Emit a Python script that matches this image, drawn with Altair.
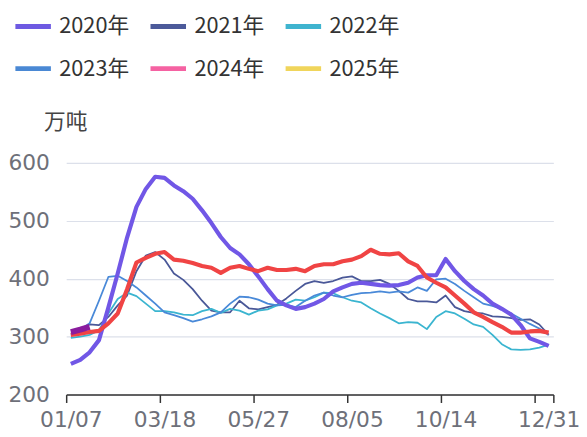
import altair as alt
import pandas as pd

years = ["2020年", "2021年", "2022年", "2023年", "2024年", "2025年"]
weeks = [d.strftime("%m/%d") for d in pd.date_range("2021-01-07", periods=51, freq="7D")] + ["12/31"]

v2020 = [253, 260, 273, 294, 350, 409, 471, 524, 555, 576, 574, 561, 551, 538, 518, 496, 472, 453,
         442, 425, 404, 382, 362, 354, 348, 351, 357, 365, 378, 385, 391, 393, 391, 389, 388, 389,
         393, 402, 406, 406, 434, 413, 396, 382, 371, 357, 348, 338, 320, 297, 291, 284]
v2021 = [305, 312, 321, 320, 334, 354, 371, 413, 440, 446, 433, 409, 398, 382, 362, 345, 342, 342,
         362, 349, 347, 351, 355, 366, 379, 391, 396, 393, 396, 402, 404, 396, 396, 398, 391, 379,
         365, 361, 361, 359, 371, 351, 344, 341, 340, 335, 334, 332, 329, 330, 321, 303]
v2022 = [298, 300, 303, 311, 340, 365, 376, 370, 357, 344, 344, 342, 338, 337, 344, 348, 341, 348,
         345, 338, 345, 347, 354, 357, 364, 362, 368, 376, 375, 368, 362, 359, 349, 340, 332, 323,
         325, 324, 313, 334, 344, 340, 331, 321, 317, 303, 287, 278, 277, 278, 281, 286]
v2023 = [302, 312, 323, 362, 403, 405, 396, 385, 371, 357, 342, 337, 332, 326, 330, 335, 342, 357,
         369, 368, 364, 357, 354, 355, 351, 362, 371, 376, 371, 368, 372, 375, 376, 378, 376, 378,
         376, 385, 379, 399, 400, 391, 379, 368, 357, 353, 348, 340, 331, 322, 314, 303]
v2024 = [303, 305, 308, 310, 323, 340, 382, 428, 436, 443, 446, 433, 431, 427, 422, 419, 410, 419,
         422, 417, 413, 419, 415, 415, 417, 413, 422, 425, 425, 430, 433, 439, 450, 443, 442, 444,
         430, 422, 402, 393, 385, 371, 357, 342, 334, 325, 317, 307, 307, 309, 310, 307]
v2025 = [308, 312, 317]

series = [v2020, v2021, v2022, v2023, v2024, v2025]
legend_colors = ["#6E5AE2", "#4C5A9A", "#3FB4CF", "#4A88D4", "#F562A2", "#F0D55B"]
line_colors = ["#7157E6", "#4A5898", "#3BB5D0", "#4989D8", "#F04444", "#8A1C9E"]

rows = []
for yr, vals in zip(years, series):
    for i, v in enumerate(vals):
        rows.append({"year": yr, "idx": i, "week": weeks[i], "value": v})
df = pd.DataFrame(rows)

tick_vals = [-0.5, 9.5, 19.5, 29.5, 39.5, 49.5, 51.5]
tick_text = [weeks[0], weeks[10], weeks[20], weeks[30], weeks[40], "", weeks[51]]
expr = "''"
for tv, tt in reversed(list(zip(tick_vals, tick_text))):
    expr = f"datum.value < {tv + 0.1} ? '{tt}' : ({expr})"

CJK = "Noto Sans CJK SC"
NUM = "DejaVu Sans"

x_enc = alt.X(
    "idx:Q",
    scale=alt.Scale(domain=[-0.5, 51.5], nice=False, zero=False),
    axis=alt.Axis(
        values=tick_vals, labelExpr=expr, title=None, grid=False,
        domainColor="#333333", domainWidth=1.5, tickColor="#333333", tickWidth=1.5, tickSize=8,
        labelFontSize=22, labelColor="#6E7079", labelFont=NUM, labelPadding=7,
        labelOffset={"condition": {"test": "datum.value > 50", "value": -4.75}, "value": 4.75},
        labelBound=False, labelOverlap=False, labelFlush=False,
    ),
)
y_enc = alt.Y(
    "value:Q",
    scale=alt.Scale(domain=[200, 600], nice=False, zero=False),
    axis=alt.Axis(
        values=[200, 300, 400, 500, 600], title="万吨", titleAngle=0, titleX=-1, titleY=-42,
        titleAlign="center", titleBaseline="middle", titleFontSize=22, titleFont=CJK,
        titleFontWeight="normal", titleColor="#444444",
        domain=False, ticks=False, grid=True, gridColor="#DCE0EA", gridWidth=1.2,
        labelFontSize=22, labelColor="#6E7079", labelFont=NUM, labelPadding=17,
    ),
)

stroke_enc = alt.Stroke("year:N", scale=alt.Scale(domain=years, range=line_colors), legend=None)

legend_layer = alt.Chart(df).mark_line(opacity=0).encode(
    x=x_enc,
    y=y_enc,
    color=alt.Color(
        "year:N",
        scale=alt.Scale(domain=years, range=legend_colors),
        legend=alt.Legend(
            title=None, orient="none", legendX=-54, legendY=-159, columns=3, direction="horizontal",
            symbolType="stroke", symbolSize=1296, symbolStrokeWidth=5, labelFontSize=22,
            labelFont=CJK, labelColor="#333333", labelOffset=6, columnPadding=11, rowPadding=11,
            padding=0, symbolOpacity=1,
        ),
    ),
)

base = alt.Chart(df).encode(x=x_enc, y=y_enc, stroke=stroke_enc, order=alt.Order("idx:Q"))

thin = base.transform_filter(
    alt.FieldOneOfPredicate(field="year", oneOf=["2021年", "2022年", "2023年"])
).mark_line(strokeWidth=1.8, strokeJoin="round")
y2020 = base.transform_filter(alt.datum.year == "2020年").mark_line(strokeWidth=4.2, strokeJoin="round")
y2024 = base.transform_filter(alt.datum.year == "2024年").mark_line(strokeWidth=4.2, strokeJoin="round")
y2025 = base.transform_filter(alt.datum.year == "2025年").mark_line(strokeWidth=6, strokeJoin="round")

chart = alt.layer(legend_layer, thin, y2020, y2024, y2025).properties(
    width=494, height=235,
    autosize=alt.AutoSizeParams(type="none"),
    padding={"left": 59, "top": 154, "right": 26, "bottom": 40},
).configure(font=CJK).configure_view(stroke=None)

chart.save("out.html", embed_options={"renderer": "svg", "actions": False})
